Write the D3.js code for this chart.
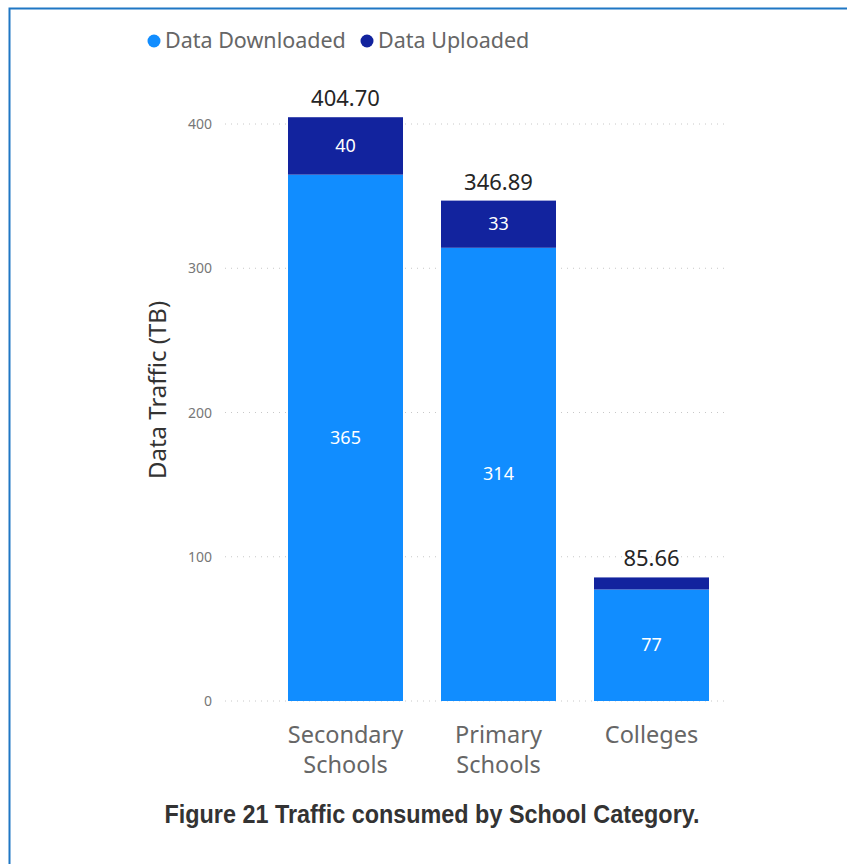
<!DOCTYPE html>
<html><head><meta charset="utf-8">
<script src="https://cdn.jsdelivr.net/npm/d3@7"></script>
<style>body{margin:0;background:#fff}svg{display:block}</style>
</head><body>
<svg id="c" width="847" height="864"></svg>
<script>
const categories = [["Secondary","Schools"],["Primary","Schools"],["Colleges"]];
const downloaded = [364.9, 314.2, 77.3];
const uploaded = [39.8, 32.69, 8.36];
const totals = [404.70, 346.89, 85.66];
const yTicks = [0, 100, 200, 300, 400];
const seriesNames = ["Data Downloaded", "Data Uploaded"];
const colors = ["#118DFF", "#12239E"];

const svg = d3.select("#c");
const font = "'Noto Sans', sans-serif";

// frame
svg.append("path").attr("d","M9.5,864 L9.5,8.5 L847,8.5").attr("fill","none").attr("stroke","#1f77c4").attr("stroke-width",2);

const x0 = 288, bw = 115, step = 153;
const xs = d3.scaleBand().domain(d3.range(categories.length))
  .range([x0, x0 + step*2 + bw]).paddingInner(1 - bw/step).paddingOuter(0);
const y = d3.scaleLinear().domain([0, 400]).range([701, 124]);

// grid
const g = svg.append("g");
g.selectAll("line.grid").data(yTicks).join("line")
  .attr("x1",225).attr("x2",725).attr("y1",d=>y(d)).attr("y2",d=>y(d))
  .attr("stroke","#c8c8c8").attr("stroke-width",1).attr("stroke-dasharray","1,5");
g.selectAll("text.tick").data(yTicks).join("text")
  .attr("x",212).attr("y",d=>y(d)+5).attr("text-anchor","end")
  .attr("font-family",font).attr("font-size",14).attr("fill","#777").text(d=>d);

// y title
svg.append("text").attr("transform",`translate(166,390) rotate(-90)`).attr("text-anchor","middle")
  .attr("font-family",font).attr("font-size",24).attr("fill","#333").text("Data Traffic (TB)");

// bars
const idx = d3.range(categories.length);
svg.append("g").selectAll("rect").data(idx).join("rect")
  .attr("x",i=>xs(i)).attr("width",xs.bandwidth())
  .attr("y",i=>y(downloaded[i])).attr("height",i=>y(0)-y(downloaded[i]))
  .attr("fill",colors[0]);
svg.append("g").selectAll("rect").data(idx).join("rect")
  .attr("x",i=>xs(i)).attr("width",xs.bandwidth())
  .attr("y",i=>y(downloaded[i]+uploaded[i])).attr("height",i=>y(downloaded[i])-y(downloaded[i]+uploaded[i]))
  .attr("fill",colors[1]);

// segment labels
svg.append("g").selectAll("text").data(idx).join("text")
  .attr("x",i=>xs(i)+xs.bandwidth()/2).attr("y",i=>y(downloaded[i]/2)+6)
  .attr("text-anchor","middle").attr("font-family",font).attr("font-size",18).attr("fill","#fff")
  .text(i=>Math.round(downloaded[i]));
svg.append("g").selectAll("text").data(idx.filter(i=>uploaded[i]>15)).join("text")
  .attr("x",i=>xs(i)+xs.bandwidth()/2).attr("y",i=>y(downloaded[i]+uploaded[i]/2)+6)
  .attr("text-anchor","middle").attr("font-family",font).attr("font-size",18).attr("fill","#fff")
  .text(i=>Math.round(uploaded[i]));

// totals
svg.append("g").selectAll("text").data(idx).join("text")
  .attr("x",i=>xs(i)+xs.bandwidth()/2).attr("y",i=>y(totals[i])-11)
  .attr("text-anchor","middle").attr("font-family",font).attr("font-size",22).attr("fill","#252525")
  .text(i=>totals[i].toFixed(2));

// category labels
const cl = svg.append("g").selectAll("text").data(idx).join("text")
  .attr("x",i=>xs(i)+xs.bandwidth()/2).attr("y",743)
  .attr("text-anchor","middle").attr("font-family",font).attr("font-size",23.5).attr("fill","#666");
cl.each(function(i){
  d3.select(this).selectAll("tspan").data(categories[i]).join("tspan")
    .attr("x",xs(i)+xs.bandwidth()/2).attr("dy",(d,k)=>k===0?0:30).text(d=>d);
});

// legend
const leg = [{cx:154,tx:165},{cx:367,tx:378}];
seriesNames.forEach((s,k)=>{
  svg.append("circle").attr("cx",leg[k].cx).attr("cy",41).attr("r",6.5).attr("fill",colors[k]);
  svg.append("text").attr("x",leg[k].tx).attr("y",48).attr("font-family",font).attr("font-size",21.5).attr("fill","#666").text(s);
});

// caption
svg.append("text").attr("x",432).attr("y",823).attr("text-anchor","middle")
  .attr("font-family","'Liberation Sans Narrow','Arial Narrow',sans-serif").attr("font-weight","bold")
  .attr("font-size",25).attr("fill","#333")
  .attr("textLength",535).attr("lengthAdjust","spacingAndGlyphs")
  .text("Figure 21 Traffic consumed by School Category.");
</script>
</body></html>
